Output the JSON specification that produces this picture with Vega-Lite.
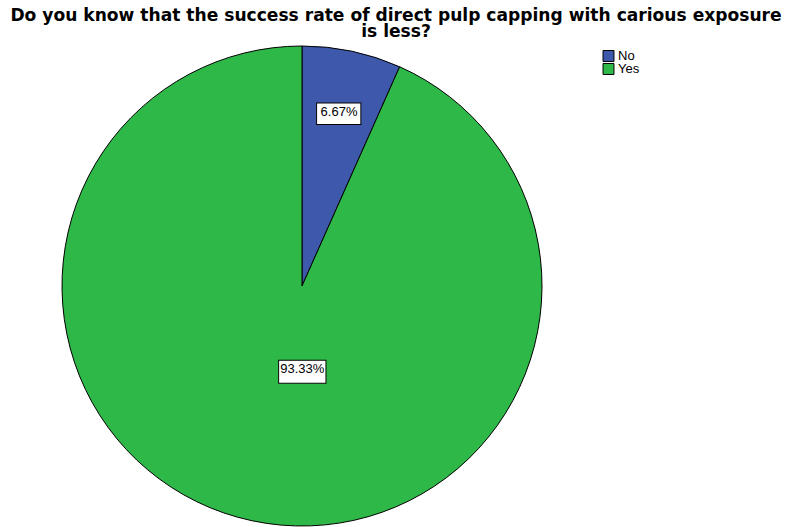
{
  "$schema": "https://vega.github.io/schema/vega-lite/v6.json",
  "width": 480,
  "height": 480,
  "autosize": {"type": "none"},
  "padding": {"left": 62, "top": 46, "right": 250, "bottom": 1},
  "background": "white",
  "view": {"stroke": null},
  "title": {
    "text": ["Do you know that the success rate of direct pulp capping with carious exposure", "is less?"],
    "font": "DejaVu Sans",
    "fontSize": 17.1,
    "fontWeight": "bold",
    "color": "black",
    "anchor": "middle",
    "dx": 94,
    "offset": 4,
    "lineHeight": 15.5,
    "limit": 800
  },
  "data": {
    "values": [
      {"answer": "No", "percent": 6.67, "label": "6.67%"},
      {"answer": "Yes", "percent": 93.33, "label": "93.33%"}
    ]
  },
  "encoding": {
    "theta": {"field": "percent", "type": "quantitative", "stack": true},
    "order": {"field": "answer", "sort": "ascending"}
  },
  "layer": [
    {
      "mark": {"type": "arc", "outerRadius": 240, "stroke": "black", "strokeWidth": 1},
      "encoding": {
        "color": {
          "field": "answer",
          "type": "nominal",
          "scale": {"domain": ["No", "Yes"], "range": ["#3E58AC", "#2EB848"]},
          "legend": {
            "title": null,
            "orient": "none",
            "legendX": 540,
            "legendY": 4,
            "symbolType": "square",
            "symbolSize": 120,
            "symbolStrokeColor": "black",
            "symbolStrokeWidth": 1,
            "symbolOpacity": 1,
            "labelFont": "Liberation Sans",
            "labelFontSize": 13,
            "labelColor": "black",
            "labelBaseline": "middle",
            "clipHeight": 12,
            "rowPadding": 0,
            "labelOffset": 3
          }
        }
      }
    },
    {
      "mark": {"type": "text", "radius": 178, "font": "DejaVu Sans", "fontSize": 58, "fill": "white", "stroke": "black", "strokeWidth": 1, "align": "center", "baseline": "middle"},
      "encoding": {
        "text": {"condition": {"test": "datum.answer == 'No'", "value": "▬"}, "value": ""}
      }
    },
    {
      "mark": {"type": "text", "radius": 85, "dx": 18, "font": "DejaVu Sans", "fontSize": 62, "fill": "white", "stroke": "black", "strokeWidth": 1, "align": "center", "baseline": "middle"},
      "encoding": {
        "text": {"condition": {"test": "datum.answer == 'Yes'", "value": "▬"}, "value": ""}
      }
    },
    {
      "mark": {"type": "text", "radius": 178, "font": "Liberation Sans", "fontSize": 13, "fill": "black", "align": "center", "baseline": "middle"},
      "encoding": {
        "text": {"condition": {"test": "datum.answer == 'No'", "field": "label"}, "value": ""}
      }
    },
    {
      "mark": {"type": "text", "radius": 85, "dx": 18, "font": "Liberation Sans", "fontSize": 13, "fill": "black", "align": "center", "baseline": "middle"},
      "encoding": {
        "text": {"condition": {"test": "datum.answer == 'Yes'", "field": "label"}, "value": ""}
      }
    }
  ]
}
